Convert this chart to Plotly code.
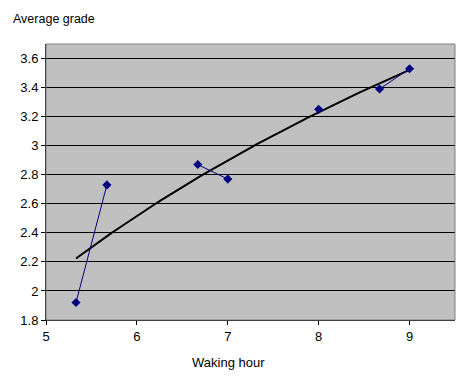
import numpy as np
import plotly.graph_objects as go

# Data (None = gap in the connecting line)
waking_hour = [5.33, 5.67, None, 6.67, 7.0, None, 8.0, None, 8.67, 9.0]
average_grade = [1.92, 2.73, None, 2.87, 2.77, None, 3.25, None, 3.39, 3.53]

x_ticks = [5, 6, 7, 8, 9]
y_ticks = [1.8, 2.0, 2.2, 2.4, 2.6, 2.8, 3.0, 3.2, 3.4, 3.6]
y_tick_labels = ["1.8", "2", "2.2", "2.4", "2.6", "2.8", "3", "3.2", "3.4", "3.6"]

# Logarithmic trendline fitted to the data points
xs = np.array([v for v in waking_hour if v is not None])
ys = np.array([v for v in average_grade if v is not None])
a, b = np.polyfit(np.log(xs), ys, 1)
trend_x = np.linspace(xs.min(), xs.max(), 60)
trend_y = a * np.log(trend_x) + b

fig = go.Figure()
fig.add_trace(go.Scatter(
    x=trend_x, y=trend_y, mode="lines",
    line=dict(color="black", width=2), hoverinfo="skip", showlegend=False))
fig.add_trace(go.Scatter(
    x=waking_hour, y=average_grade, mode="lines+markers",
    connectgaps=False,
    line=dict(color="#000080", width=1),
    marker=dict(symbol="diamond", size=7, color="#000080"),
    showlegend=False))

fig.update_layout(
    width=470, height=376,
    margin=dict(l=46, r=15, t=44, b=56),
    paper_bgcolor="white", plot_bgcolor="#C0C0C0",
    font=dict(family="Liberation Sans, Arial, sans-serif", size=13, color="black"),
    showlegend=False,
    shapes=[dict(type="rect", xref="paper", yref="paper", x0=0, y0=0, x1=1, y1=1,
                 line=dict(color="#808080", width=1), layer="above")],
    annotations=[
        dict(text="Average grade", xref="paper", yref="paper", x=-0.085, y=1.0,
             yshift=25, xanchor="left", yanchor="middle", showarrow=False,
             font=dict(size=12.5)),
        dict(text="Waking hour", xref="paper", yref="paper", x=0.445, y=0,
             yshift=-42, xanchor="center", yanchor="middle", showarrow=False,
             font=dict(size=13)),
    ],
)
fig.update_xaxes(range=[5, 9.5], tickvals=x_ticks, ticks="outside", ticklen=4,
                 tickcolor="black", showgrid=False, zeroline=False,
                 showline=True, linecolor="black", linewidth=1,
                 tickfont=dict(size=13))
fig.update_yaxes(range=[1.8, 3.7], tickvals=y_ticks, ticktext=y_tick_labels,
                 ticks="outside", ticklen=4, tickcolor="black",
                 showgrid=True, gridcolor="black", gridwidth=1, zeroline=False,
                 showline=True, linecolor="black", linewidth=1,
                 tickfont=dict(size=13))

fig.write_html("out.html", config={"displayModeBar": False},
               post_script="document.body.style.margin='0';")
